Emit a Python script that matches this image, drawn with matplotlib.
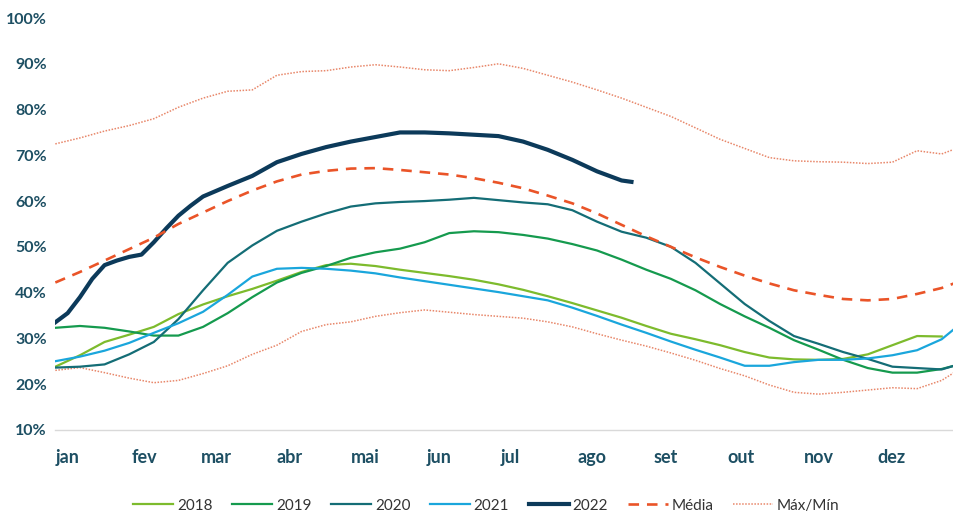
import matplotlib
matplotlib.use("Agg")
import matplotlib.pyplot as plt

plt.rcParams['font.family'] = ['Lato', 'DejaVu Sans']

# dias do ano (0 = 1 jan)
dias = [0, 10, 20, 30, 40, 50, 60, 70, 80, 90, 100, 110, 120, 130, 140, 150, 160, 170, 180,
        190, 200, 210, 220, 230, 240, 250, 260, 270, 280, 290, 300, 310, 320, 330, 340, 350, 360, 365]

meses = ['jan', 'fev', 'mar', 'abr', 'mai', 'jun', 'jul', 'ago', 'set', 'out', 'nov', 'dez']
inicioMes = [0, 31, 59, 90, 120, 151, 181, 212, 243, 273, 304, 334]

v2018 = [23.8, 26.3, 29.2, 30.8, 32.5, 35.3, 37.4, 39.2, 40.8, 42.6, 44.5, 46.0, 46.3, 45.8, 45.0,
         44.3, 43.6, 42.8, 41.8, 40.6, 39.2, 37.7, 36.1, 34.5, 32.7, 31.0, 29.8, 28.5, 27.0, 25.8,
         25.4, 25.3, 25.5, 26.5, 28.5, 30.5, 30.4]

v2019 = [32.3, 32.7, 32.3, 31.5, 30.6, 30.6, 32.5, 35.5, 39.0, 42.2, 44.3, 45.8, 47.6, 48.8, 49.6,
         51.0, 53.0, 53.4, 53.2, 52.6, 51.8, 50.6, 49.2, 47.2, 45.0, 43.0, 40.5, 37.5, 34.8, 32.3,
         29.6, 27.5, 25.3, 23.5, 22.5, 22.5, 23.3, 24.0]

v2020 = [23.6, 23.8, 24.3, 26.5, 29.2, 34.2, 40.5, 46.5, 50.3, 53.5, 55.5, 57.3, 58.8, 59.5, 59.8,
         60.0, 60.3, 60.7, 60.2, 59.7, 59.3, 58.0, 55.5, 53.3, 52.0, 50.0, 46.5, 42.0, 37.5, 33.8,
         30.5, 28.8, 27.0, 25.5, 23.8, 23.5, 23.2, 24.0]

v2021 = [25.0, 26.0, 27.3, 29.0, 31.2, 33.3, 35.8, 39.5, 43.5, 45.2, 45.4, 45.2, 44.8, 44.2, 43.3,
         42.5, 41.7, 40.9, 40.1, 39.2, 38.3, 36.7, 34.9, 33.0, 31.2, 29.3, 27.5, 25.8, 24.0, 24.0,
         24.8, 25.3, 25.3, 25.6, 26.3, 27.4, 29.8, 32.0]

dias2022 = [0, 5, 10, 15, 20, 25, 30, 35, 40, 45, 50, 55, 60, 70, 80, 90, 100, 110, 120, 130, 140,
            150, 160, 170, 180, 190, 200, 210, 220, 230, 234]
v2022 = [33.5, 35.5, 39.0, 43.0, 46.0, 47.0, 47.8, 48.3, 51.0, 54.0, 56.8, 59.0, 61.0, 63.3, 65.5,
         68.5, 70.3, 71.8, 73.0, 74.0, 75.0, 75.0, 74.8, 74.5, 74.2, 73.0, 71.2, 69.0, 66.5, 64.5,
         64.2]

media = [42.2, 44.5, 47.0, 49.5, 52.0, 55.0, 57.5, 60.0, 62.3, 64.3, 65.8, 66.6, 67.1, 67.2, 66.8,
         66.3, 65.8, 65.0, 64.0, 62.8, 61.2, 59.5, 57.3, 54.8, 52.3, 50.0, 47.7, 45.6, 43.7, 42.0,
         40.5, 39.5, 38.6, 38.3, 38.6, 39.7, 41.0, 42.0]

maximo = [72.5, 73.8, 75.3, 76.5, 78.0, 80.5, 82.5, 84.0, 84.3, 87.5, 88.3, 88.5, 89.3, 89.8, 89.3,
          88.7, 88.5, 89.2, 90.0, 89.0, 87.5, 86.0, 84.3, 82.5, 80.5, 78.5, 76.0, 73.5, 71.5, 69.5,
          68.8, 68.6, 68.5, 68.2, 68.5, 71.0, 70.3, 71.3]

minimo = [23.0, 23.6, 22.5, 21.3, 20.3, 20.8, 22.3, 24.0, 26.5, 28.5, 31.5, 33.0, 33.6, 34.8, 35.6,
          36.2, 35.7, 35.2, 34.8, 34.4, 33.6, 32.5, 31.0, 29.6, 28.3, 26.8, 25.2, 23.4, 21.8, 19.8,
          18.2, 17.8, 18.2, 18.7, 19.2, 19.0, 20.8, 22.5]

corTexto = '#1d4f63'

fig = plt.figure(figsize=(9.54, 5.16), dpi=100)
ax = fig.add_axes([0.058, 0.167, 0.942, 0.798])

ax.plot(dias, maximo, color='#e8876a', lw=1.1, ls=(0, (1, 1)), label='Máx/Mín')
ax.plot(dias, minimo, color='#e8876a', lw=1.1, ls=(0, (1, 1)))
ax.plot(dias[:-1], v2018, color='#7dbb2d', lw=1.6, label='2018')
ax.plot(dias, v2019, color='#159a4e', lw=1.6, label='2019')
ax.plot(dias, v2020, color='#146d76', lw=1.6, label='2020')
ax.plot(dias, v2021, color='#1aa6dc', lw=1.6, label='2021')
ax.plot(dias2022, v2022, color='#0c3a5a', lw=3.0, label='2022')
ax.plot(dias, media, color='#ea5428', lw=1.9, ls=(0, (4, 3)), label='Média')

ax.set_xlim(0, 365)
ax.set_ylim(10, 100)
ax.set_yticks(range(10, 101, 10))
ax.set_yticklabels([str(v) + '%' for v in range(10, 101, 10)], fontsize=11.5,
                   fontweight='bold', color=corTexto)
ax.set_xticks(inicioMes)
ax.set_xticklabels(meses, fontsize=13, fontweight='bold', color=corTexto, ha='left')
ax.tick_params(axis='both', length=0)
ax.tick_params(axis='x', pad=14)
ax.tick_params(axis='y', pad=6)

for s in ['top', 'right', 'left']:
    ax.spines[s].set_visible(False)
ax.spines['bottom'].set_color('#d9d9d9')
ax.spines['bottom'].set_linewidth(1.0)

handles, labels = ax.get_legend_handles_labels()
ordem = ['2018', '2019', '2020', '2021', '2022', 'Média', 'Máx/Mín']
h = [handles[labels.index(l)] for l in ordem]
leg = fig.legend(h, ordem, loc='lower center', ncol=7, frameon=False, fontsize=11,
                 bbox_to_anchor=(0.51, -0.02), handlelength=2.6, columnspacing=1.3,
                 handletextpad=0.25)
for t in leg.get_texts():
    t.set_color('#333333')

fig.savefig('out.png', dpi=100)
